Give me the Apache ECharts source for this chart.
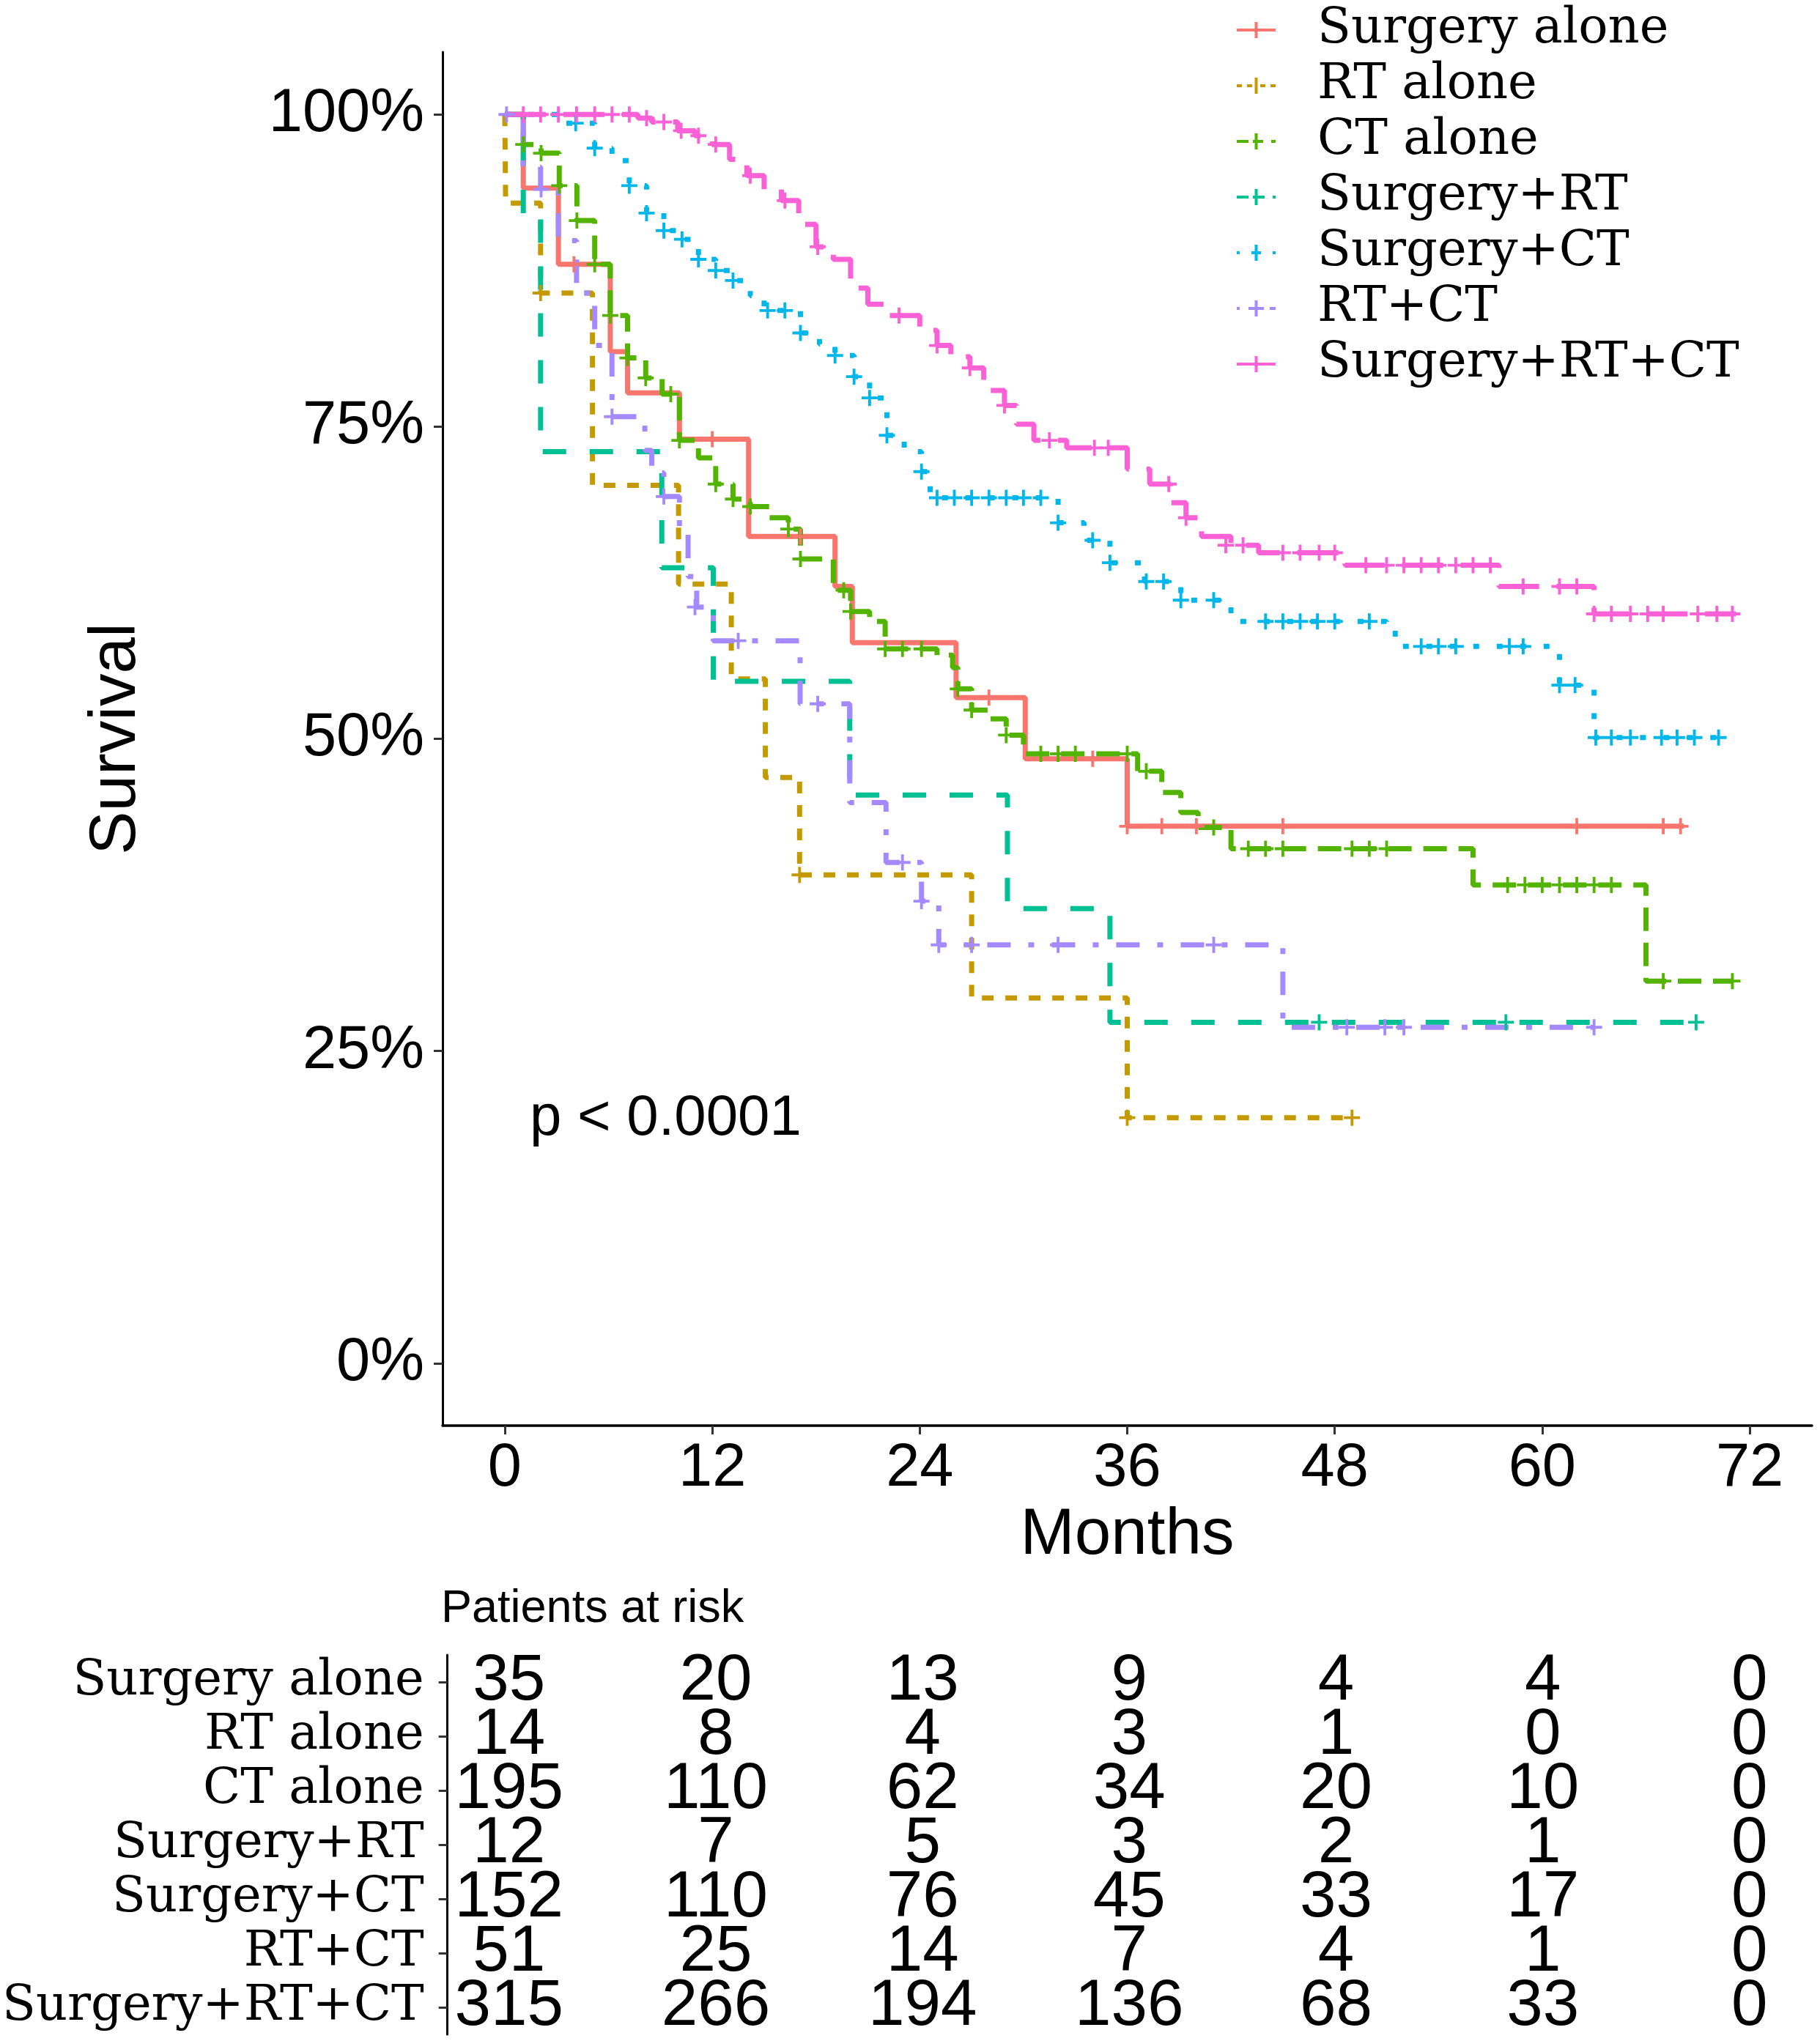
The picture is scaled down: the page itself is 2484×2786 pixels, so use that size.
<!DOCTYPE html>
<html>
<head>
<meta charset="utf-8">
<script src="https://cdn.jsdelivr.net/npm/echarts@6/dist/echarts.min.js"></script>
<style>
html,body{margin:0;padding:0;background:#fff;}
#chart{width:2484px;height:2786px;}
</style>
</head>
<body>
<div id="chart"></div>
<script>
// ---------------- DATA ----------------
const groups = ['Surgery alone','RT alone','CT alone','Surgery+RT','Surgery+CT','RT+CT','Surgery+RT+CT'];
const colors = ['#F8766D','#C49A00','#53B400','#00C094','#00B6EB','#A58AFF','#FB61D7'];

const xTicks = [0,12,24,36,48,60,72];
const yTicks = [0,0.25,0.5,0.75,1];

// Kaplan-Meier steps [month, survival]
const surgeryAloneSteps = [[0,1],[1.07,0.941],[3.1,0.880],[6.1,0.810],[7.1,0.777],[10.1,0.740],[14.1,0.662],[19.1,0.622],[20.1,0.577],[26.1,0.533],[30.1,0.484],[36.0,0.430],[68.2,0.430]];
const surgeryAloneCensor = [[4.0,0.880],[12.0,0.740],[17.1,0.662],[28.0,0.533],[34.0,0.484],[36.0,0.430],[38.0,0.430],[40.0,0.430],[45.0,0.430],[62.0,0.430],[67.0,0.430],[68.0,0.430]];

const rtAloneSteps = [[0,1],[0.05,0.929],[2.07,0.857],[5.07,0.703],[10.05,0.624],[13.1,0.548],[15.07,0.469],[17.05,0.391],[27.0,0.2925],[36.0,0.1966],[49.0,0.1966]];
const rtAloneCensor = [[2.07,0.857],[17.05,0.391],[36.0,0.1966],[49.0,0.1966]];

const ctAloneSteps = [[0,1],[1.07,0.976],[2.1,0.969],[3.15,0.943],[4.17,0.915],[5.2,0.880],[6.1,0.839],[7.1,0.805],[8.15,0.789],[9.1,0.776],[10.1,0.739],[11.2,0.725],[12.2,0.704],[13.2,0.692],[14.2,0.686],[15.3,0.677],[16.4,0.668],[17.1,0.644],[19.0,0.619],[20.0,0.602],[21.1,0.594],[22.0,0.572],[25.0,0.567],[25.9,0.557],[26.2,0.540],[27.0,0.523],[28.0,0.516],[29.0,0.503],[30.0,0.488],[36.6,0.474],[38.0,0.457],[39.1,0.441],[40.1,0.429],[42.0,0.412],[56.0,0.383],[66.0,0.306],[71.0,0.306]];
const ctAloneCensor = [[1.07,0.976],[2.1,0.969],[3.15,0.943],[4.17,0.915],[5.2,0.880],[6.1,0.839],[7.1,0.805],[8.15,0.789],[9.6,0.776],[10.1,0.739],[12.2,0.704],[13.2,0.692],[14.2,0.686],[16.4,0.668],[17.1,0.644],[19.6,0.619],[20.0,0.602],[22.0,0.572],[23.0,0.572],[24.1,0.572],[26.2,0.540],[27.0,0.523],[29.0,0.503],[31.0,0.488],[32.0,0.488],[33.0,0.488],[36.0,0.488],[37.1,0.474],[41.0,0.429],[43.0,0.412],[44.0,0.412],[45.0,0.412],[49.0,0.412],[50.0,0.412],[51.0,0.412],[58.0,0.383],[59.0,0.383],[60.0,0.383],[61.0,0.383],[62.0,0.383],[63.0,0.383],[64.0,0.383],[67.0,0.306],[71.0,0.306]];

const surgeryRtSteps = [[0,1],[1.07,0.917],[2.07,0.73],[9.08,0.637],[12.06,0.546],[19.95,0.455],[29.07,0.364],[35.0,0.273],[69.0,0.273]];
const surgeryRtCensor = [[47.1,0.273],[57.9,0.273],[68.9,0.273]];

const surgeryCtSteps = [[0,1],[3.5,0.993],[5.2,0.973],[6.2,0.963],[7.2,0.943],[8.2,0.921],[9.2,0.907],[10.2,0.900],[11.2,0.884],[12.2,0.875],[13.2,0.867],[14.2,0.855],[15.0,0.843],[17.1,0.825],[18.2,0.816],[19.1,0.807],[20.2,0.790],[21.1,0.773],[22.1,0.743],[23.1,0.730],[24.1,0.714],[24.6,0.693],[32.0,0.673],[33.5,0.659],[35.0,0.641],[37.0,0.626],[39.1,0.611],[42.0,0.594],[51.0,0.587],[51.5,0.574],[61.0,0.543],[63.0,0.501],[70.3,0.501]];
const surgeryCtCensor = [[4.1,0.993],[5.2,0.973],[7.2,0.943],[8.2,0.921],[9.2,0.907],[10.25,0.900],[11.2,0.884],[12.2,0.875],[13.2,0.867],[15.2,0.843],[16.2,0.843],[17.1,0.825],[19.1,0.807],[20.2,0.790],[21.1,0.773],[22.1,0.743],[24.1,0.714],[25.0,0.693],[26.0,0.693],[27.0,0.693],[28.0,0.693],[29.0,0.693],[30.0,0.693],[31.0,0.693],[32.0,0.673],[34.0,0.659],[35.0,0.641],[37.1,0.626],[38.1,0.626],[39.1,0.611],[41.0,0.611],[44.0,0.594],[45.0,0.594],[46.0,0.594],[47.0,0.594],[48.0,0.594],[50.0,0.594],[53.0,0.574],[54.0,0.574],[55.0,0.574],[58.1,0.574],[58.9,0.574],[61.0,0.543],[61.9,0.543],[63.1,0.501],[64.0,0.501],[65.1,0.501],[66.9,0.501],[67.8,0.501],[68.8,0.501],[70.2,0.501]];

const rtCtSteps = [[0,1],[1.07,0.958],[2.07,0.940],[3.1,0.899],[4.15,0.857],[5.2,0.815],[6.2,0.758],[8.1,0.731],[8.5,0.713],[9.2,0.694],[10.1,0.668],[10.6,0.630],[11.1,0.6055],[12.06,0.5785],[17.08,0.528],[19.95,0.449],[22.05,0.401],[24.1,0.370],[25.1,0.335],[45.0,0.269],[63.0,0.269]];
const rtCtCensor = [[0.1,1],[2.1,0.940],[6.2,0.758],[9.2,0.694],[11.0,0.6055],[13.5,0.5785],[18.1,0.528],[23.0,0.401],[24.1,0.370],[25.1,0.335],[27.0,0.335],[32.0,0.335],[41.0,0.335],[48.7,0.269],[50.9,0.269],[52.0,0.269],[63.0,0.269]];

const surgeryRtCtSteps = [[0,1],[7.7,0.997],[8.5,0.994],[10.0,0.987],[11.0,0.983],[12.0,0.976],[13.0,0.964],[14.0,0.951],[15.0,0.940],[16.0,0.931],[17.0,0.912],[18.0,0.894],[19.0,0.884],[20.0,0.861],[21.0,0.848],[22.0,0.839],[24.0,0.827],[25.0,0.815],[25.8,0.806],[26.9,0.797],[27.7,0.779],[28.9,0.767],[29.6,0.752],[30.6,0.739],[32.5,0.733],[36.0,0.716],[37.3,0.704],[38.5,0.689],[39.4,0.677],[40.3,0.662],[42.0,0.655],[43.6,0.649],[48.6,0.639],[57.5,0.622],[63.0,0.600],[71.2,0.600]];
const surgeryRtCtCensor = [[1.07,1],[2.07,1],[3.1,1],[4.15,1],[5.2,1],[6.2,1],[7.2,1],[8.2,0.997],[9.2,0.994],[10.2,0.987],[11.2,0.983],[12.2,0.976],[14.2,0.951],[16.2,0.931],[18.1,0.894],[22.8,0.839],[25.0,0.815],[26.9,0.797],[28.9,0.767],[31.5,0.739],[34.1,0.733],[34.9,0.733],[38.4,0.704],[39.4,0.677],[41.7,0.655],[42.7,0.655],[45.0,0.649],[46.0,0.649],[47.1,0.649],[48.0,0.649],[49.8,0.639],[51.0,0.639],[52.0,0.639],[53.0,0.639],[54.0,0.639],[55.0,0.639],[56.0,0.639],[57.0,0.639],[58.9,0.622],[61.0,0.622],[62.0,0.622],[63.0,0.600],[64.0,0.600],[65.1,0.600],[66.1,0.600],[67.0,0.600],[69.0,0.600],[70.1,0.600],[71.0,0.600]];

// Patients at risk
const riskTimes = [0,12,24,36,48,60,72];
const riskSurgeryAlone = [35,20,13,9,4,4,0];
const riskRtAlone = [14,8,4,3,1,0,0];
const riskCtAlone = [195,110,62,34,20,10,0];
const riskSurgeryRt = [12,7,5,3,2,1,0];
const riskSurgeryCt = [152,110,76,45,33,17,0];
const riskRtCt = [51,25,14,7,4,1,0];
const riskSurgeryRtCt = [315,266,194,136,68,33,0];

const pValueText = 'p < 0.0001';

// ---------------- STYLE ----------------
const allSteps = [surgeryAloneSteps, rtAloneSteps, ctAloneSteps, surgeryRtSteps, surgeryCtSteps, rtCtSteps, surgeryRtCtSteps];
const allCensor = [surgeryAloneCensor, rtAloneCensor, ctAloneCensor, surgeryRtCensor, surgeryCtCensor, rtCtCensor, surgeryRtCtCensor];
const allRisk = [riskSurgeryAlone, riskRtAlone, riskCtAlone, riskSurgeryRt, riskSurgeryCt, riskRtCt, riskSurgeryRtCt];

const U = 8; // dash unit
const dashes = ['solid', [2*U,2*U], [4*U,2*U], [4*U,4*U], [1*U,3*U], [1*U,3*U,4*U,3*U], [7*U,3*U]];

const PLUS = 'path://M8.25,0H11.75V8.25H20V11.75H11.75V20H8.25V11.75H0V8.25H8.25Z';
const P = 'M24.5,0H28.5V22H24.5Z ';
const legendIcons = [
  'path://M0,9H53V13H0Z ' + P,
  'path://M0,9H7V13H0Z M14,9H21V13H14Z M32,9H39V13H32Z M46,9H53V13H46Z ' + P,
  'path://M0,9H16V13H0Z M22,9H36V13H22Z M47,9H53V13H47Z ' + P,
  'path://M0,9H16V13H0Z M22,9H38V13H22Z M49,9H53V13H49Z ' + P,
  'path://M0,9H4V13H0Z M20,9H33V13H20Z M49,9H53V13H49Z ' + P,
  'path://M0,9H4V13H0Z M16,9H37V13H16Z M45,9H53V13H45Z ' + P,
  'path://M0,9H53V13H0Z ' + P
];

const SANS = 'Liberation Sans, Arial, sans-serif';
const SERIF = 'DejaVu Serif, serif';

const series = [];
groups.forEach((g, i) => {
  series.push({
    name: g, type: 'line', step: 'end', xAxisIndex: 0, yAxisIndex: 0,
    data: allSteps[i], showSymbol: false, symbol: 'none',
    lineStyle: { color: colors[i], width: 7, type: dashes[i] },
    itemStyle: { color: colors[i] },
    z: 3, silent: true
  });
});
groups.forEach((g, i) => {
  series.push({
    name: g + ' censor', type: 'scatter', xAxisIndex: 0, yAxisIndex: 0,
    data: allCensor[i], symbol: PLUS, symbolSize: 22,
    itemStyle: { color: colors[i], opacity: 1 }, z: 4, silent: true
  });
});
const riskData = [];
groups.forEach((g, i) => {
  riskTimes.forEach((t, j) => riskData.push([t, g, allRisk[i][j]]));
});
series.push({
  name: 'risk', type: 'scatter', xAxisIndex: 1, yAxisIndex: 1,
  data: riskData, symbolSize: 1, itemStyle: { color: 'rgba(255,255,255,0)', opacity: 1 },
  label: { show: true, position: [0, 0], align: 'center', verticalAlign: 'middle',
           formatter: p => String(p.value[2]),
           fontSize: 89, color: '#000', textBorderWidth: 0, fontFamily: SANS },
  silent: true
});

const option = {
  animation: false,
  backgroundColor: '#fff',
  title: [
    { text: pValueText, left: 723, top: 1488, padding: 0,
      textStyle: { fontSize: 78, fontWeight: 'normal', color: '#000', fontFamily: SANS } },
    { text: 'Patients at risk', left: 602, top: 2165, padding: 0,
      textStyle: { fontSize: 63, fontWeight: 'normal', color: '#000', fontFamily: SANS } }
  ],
  legend: {
    data: groups.map((g, i) => ({ name: g, icon: legendIcons[i] })),
    orient: 'vertical', left: 1688, top: 6, padding: 0,
    itemWidth: 53, itemHeight: 22, itemGap: 6, selectedMode: false,
    textStyle: { fontFamily: SERIF, fontSize: 67, color: '#000', lineHeight: 70, padding: [0,0,0,52] }
  },
  grid: [
    { left: 604, top: 71, width: 1869, height: 1875, containLabel: false },
    { left: 604, top: 2259, width: 1869, height: 518, containLabel: false }
  ],
  xAxis: [
    { type: 'value', gridIndex: 0, min: -3.6, max: 75.6,
      axisLine: { show: true, onZero: false, lineStyle: { color: '#000', width: 3.5 } },
      axisTick: { show: true, customValues: xTicks, length: 12, lineStyle: { color: '#333', width: 3 } },
      axisLabel: { customValues: xTicks, fontSize: 83, color: '#000', margin: 18, fontFamily: SANS },
      splitLine: { show: false },
      name: 'Months', nameLocation: 'middle', nameGap: 90,
      nameTextStyle: { fontSize: 89, color: '#000', fontFamily: SANS } },
    { type: 'value', gridIndex: 1, min: -3.6, max: 75.6, show: false }
  ],
  yAxis: [
    { type: 'value', gridIndex: 0, min: -0.05, max: 1.05,
      axisLine: { show: true, onZero: false, lineStyle: { color: '#000', width: 3 } },
      axisTick: { show: true, customValues: yTicks, length: 12, lineStyle: { color: '#333', width: 3 } },
      axisLabel: { customValues: yTicks, fontSize: 83, color: '#000', margin: 25, fontFamily: SANS,
                   formatter: v => Math.round(v * 100) + '%' },
      splitLine: { show: false },
      name: 'Survival', nameLocation: 'middle', nameGap: 400, nameRotate: 90,
      nameTextStyle: { fontSize: 89, color: '#000', fontFamily: SANS } },
    { type: 'category', gridIndex: 1, data: groups, inverse: true,
      axisLine: { show: true, onZero: false, lineStyle: { color: '#000', width: 3 } },
      axisTick: { show: true, alignWithLabel: true, interval: 0, length: 12, lineStyle: { color: '#333', width: 3 } },
      axisLabel: { interval: 0, fontSize: 67, color: '#000', margin: 32, fontFamily: SERIF },
      splitLine: { show: false } }
  ],
  series: series
};

const chart = echarts.init(document.getElementById('chart'), null, { renderer: 'canvas' });
chart.setOption(option);
</script>
</body>
</html>
